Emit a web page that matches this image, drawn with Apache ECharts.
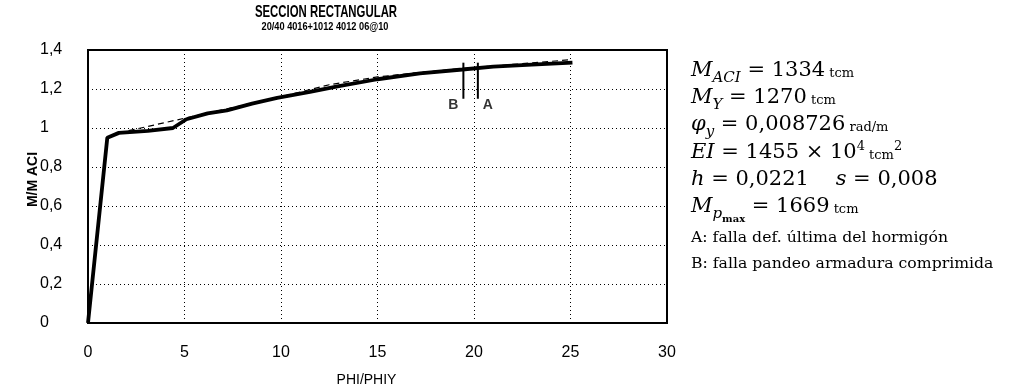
<!DOCTYPE html>
<html>
<head>
<meta charset="utf-8">
<script src="https://cdn.jsdelivr.net/npm/echarts@6/dist/echarts.min.js"></script>
<style>
    html, body { margin: 0; padding: 0; background: #fff; }
    #chart { width: 1022px; height: 390px; }
</style>
</head>
<body>
<div id="chart"></div>
<script>
// Moment-curvature curve (M/M ACI against PHI/PHIY)
const phiCurve = [0, 1.0, 1.6, 3.1, 4.4, 5.1, 6.2, 7.2, 8.5, 9.8, 11.5, 13, 15, 17.2, 19.4, 21, 23, 25.1];
const mCurve = [0, 0.95, 0.975, 0.985, 1.0, 1.045, 1.075, 1.09, 1.125, 1.155, 1.185, 1.215, 1.25, 1.28, 1.30, 1.315, 1.325, 1.335];

// Dashed fitted curve
const phiFit = [1.6, 5.0, 7.5, 10, 12.5, 15, 17.5, 20, 22.5, 25];
const mFit = [0.975, 1.05, 1.105, 1.16, 1.222, 1.262, 1.288, 1.31, 1.33, 1.35];

// Failure marks: B = buckling of compressed steel, A = concrete ultimate strain
const failNames = ['B', 'A'];
const failPhi = [19.45, 20.2];
const failTop = [1.335, 1.335];
const failBottom = [1.15, 1.15];

// Axis ranges
const xRange = [0, 30, 5];
const yRange = [0, 1.4, 0.2];

const chart = echarts.init(document.getElementById('chart'));

// text measuring for the formula block
const ctx = document.createElement('canvas').getContext('2d');
const serif = '"DejaVu Serif"';
const fragStyles = {
    it: { size: 21, italic: true, dy: 0 },
    rm: { size: 21, dy: 0 },
    sub: { size: 15, italic: true, dy: 5 },
    sub2: { size: 10, bold: true, dy: 9 },
    unit: { size: 13, dy: 0 },
    sup: { size: 13, dy: -9 },
    note: { size: 14, dy: 0, sx: 1.12 }
};

function fontOf(s) {
    return (s.italic ? 'italic ' : '') + (s.bold ? 'bold ' : '') + s.size + 'px ' + serif;
}

// lays out one line of the formula block, fragment by fragment
function formulaRow(parts, x0, baseline) {
    let x = x0;
    const out = [];
    parts.forEach(function (p) {
        const s = fragStyles[p[1]];
        const font = fontOf(s);
        const sx = s.sx || 1;
        ctx.font = font;
        out.push({
            type: 'text',
            x: x,
            y: baseline + s.dy - 0.35 * s.size,
            scaleX: sx,
            style: { text: p[0], font: font, fill: '#000', align: 'left', verticalAlign: 'middle' }
        });
        x += ctx.measureText(p[0]).width * sx;
    });
    return out;
}

const formulaX = 691;
let formula = [];
formula = formula.concat(formulaRow([['M', 'it'], ['ACI', 'sub'], [' = 1334', 'rm'], [' tcm', 'unit']], formulaX, 78));
formula = formula.concat(formulaRow([['M', 'it'], ['Y', 'sub'], [' = 1270', 'rm'], [' tcm', 'unit']], formulaX, 105));
formula = formula.concat(formulaRow([['φ', 'it'], ['y', 'sub'], [' = 0,008726', 'rm'], [' rad/m', 'unit']], formulaX, 132));
formula = formula.concat(formulaRow([['EI', 'it'], [' = 1455 × 10', 'rm'], ['4', 'sup'], [' tcm', 'unit'], ['2', 'sup']], formulaX, 160));
formula = formula.concat(formulaRow([['h', 'it'], [' = 0,0221    ', 'rm'], ['s', 'it'], [' = 0,008', 'rm']], formulaX, 187));
formula = formula.concat(formulaRow([['M', 'it'], ['p', 'sub'], ['max', 'sub2'], [' = 1669', 'rm'], [' tcm', 'unit']], formulaX, 214));
formula = formula.concat(formulaRow([['A: falla def. última del hormigón', 'note']], formulaX, 243));
formula = formula.concat(formulaRow([['B: falla pandeo armadura comprimida', 'note']], formulaX, 269));

// vertical failure marks and their letters
const markSeries = failNames.map(function (name, i) {
    return {
        name: 'mark ' + name,
        type: 'line',
        data: [[failPhi[i], failTop[i]], [failPhi[i], failBottom[i]]],
        symbol: 'none',
        lineStyle: { color: '#000', width: 2 },
        z: 4
    };
});
const markLabels = {
    name: 'mark labels',
    type: 'scatter',
    symbolSize: 0,
    data: failNames.map(function (name, i) {
        return {
            value: [failPhi[i], failBottom[i]],
            name: name,
            label: {
                show: true,
                formatter: name,
                position: i === 0 ? 'left' : 'right',
                distance: 5,
                offset: [0, 6],
                color: '#000',
                fontFamily: 'Liberation Sans',
                fontWeight: 'bold',
                fontSize: 14
            }
        };
    })
};

const option = {
    animation: false,
    backgroundColor: '#fff',
    grid: {
        left: 88, right: 355, top: 50, bottom: 67,
        outerBoundsMode: 'none',
        show: true, borderColor: '#000', borderWidth: 2
    },
    xAxis: {
        type: 'value',
        min: xRange[0], max: xRange[1], interval: xRange[2],
        name: 'PHI/PHIY',
        nameLocation: 'middle',
        nameGap: 50,
        nameMoveOverlap: false,
        nameTextStyle: { color: '#000', fontFamily: 'Liberation Sans', fontSize: 14, padding: [0, 22, 0, 0] },
        axisLine: { show: true, lineStyle: { color: '#000', width: 2 } },
        axisTick: { show: false },
        axisLabel: { color: '#000', fontFamily: 'Liberation Sans', fontSize: 16, margin: 22 },
        splitLine: { show: true, lineStyle: { color: '#000', width: 1, type: [1, 3] } }
    },
    yAxis: {
        type: 'value',
        min: yRange[0], max: yRange[1], interval: yRange[2],
        name: 'M/M ACI',
        nameLocation: 'middle',
        nameRotate: 90,
        nameGap: 48,
        nameMoveOverlap: false,
        nameTextStyle: { color: '#000', fontFamily: 'Liberation Sans', fontSize: 14, fontWeight: 'bold', padding: [0, 0, 0, 14] },
        axisLine: { show: true, lineStyle: { color: '#000', width: 2 } },
        axisTick: { show: false },
        axisLabel: {
            color: '#000', fontFamily: 'Liberation Sans', fontSize: 16, margin: 48, align: 'left',
            formatter: function (v) { return String(Number(v.toFixed(1))).replace('.', ','); }
        },
        splitLine: { show: true, lineStyle: { color: '#000', width: 1, type: [1, 3] } }
    },
    graphic: [
        {
            type: 'text', x: 326, y: 12, scaleX: 0.67,
            style: { text: 'SECCION RECTANGULAR', font: 'bold 17px "Liberation Sans"', fill: '#000', align: 'center', verticalAlign: 'middle' }
        },
        {
            type: 'text', x: 325, y: 27, scaleX: 0.92,
            style: { text: '20/40 4016+1012 4012 06@10', font: 'bold 10px "Liberation Sans"', fill: '#000', align: 'center', verticalAlign: 'middle' }
        }
    ].concat(formula),
    series: [
        {
            name: 'M/M ACI',
            type: 'line',
            data: phiCurve.map(function (p, i) { return [p, mCurve[i]]; }),
            symbol: 'none',
            lineStyle: { color: '#000', width: 3.8 },
            z: 3
        },
        {
            name: 'fit',
            type: 'line',
            data: phiFit.map(function (p, i) { return [p, mFit[i]]; }),
            symbol: 'none',
            lineStyle: { color: '#000', width: 1.2, type: [6, 4] },
            z: 2
        }
    ].concat(markSeries, [markLabels])
};

chart.setOption(option);
</script>
</body>
</html>
